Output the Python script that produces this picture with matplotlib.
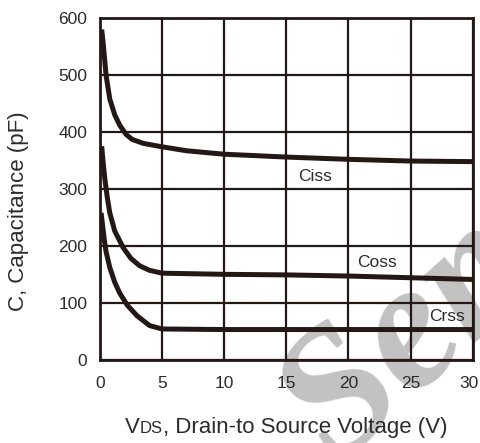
import numpy as np
import matplotlib
matplotlib.use("Agg")
import matplotlib.pyplot as plt
import matplotlib.transforms as mtransforms

# capacitance vs drain-source voltage, values read per curve
ciss_v = [0.15, 0.25, 0.5, 0.8, 1.2, 1.6, 2.1, 2.6, 3.5, 5, 7, 10, 15, 20, 25, 30]
ciss_c = [580, 560, 500, 458, 430, 412, 396, 387, 380, 374, 367, 361, 356, 352, 349, 348]

coss_v = [0.15, 0.25, 0.4, 0.6, 0.8, 1.2, 1.9, 2.5, 3.2, 4.0, 5, 10, 15, 20, 25, 30]
coss_c = [375, 350, 318, 285, 258, 226, 196, 178, 165, 157, 152, 150, 149, 147, 144, 141]

crss_v = [0.1, 0.2, 0.35, 0.5, 0.8, 1.2, 1.6, 2.2, 3.0, 4.0, 5, 10, 20, 30]
crss_c = [258, 240, 212, 190, 162, 136, 117, 96, 77, 60, 54, 53, 53, 53]

labels = ["Ciss", "Coss", "Crss"]
label_pos = [(17.3, 321), (22.3, 170), (27.9, 76)]

xticks = [0, 5, 10, 15, 20, 25, 30]
yticks = [0, 100, 200, 300, 400, 500, 600]

ink = "#231815"
txt = "#2b2b2b"
plt.rcParams["font.family"] = ["Liberation Sans", "DejaVu Sans"]

fig = plt.figure(figsize=(4.8, 4.43), dpi=100)
ax = fig.add_axes([0.208, 0.188, 0.777, 0.771])
ax.patch.set_alpha(0)

ax.set_xlim(0, 30)
ax.set_ylim(0, 600)
ax.set_xticks(xticks)
ax.set_yticks(yticks)
ax.tick_params(length=0, labelsize=12.5, labelcolor=txt)
ax.tick_params(axis="x", pad=12)
ax.tick_params(axis="y", pad=9)
ax.grid(True, color=ink, linewidth=1.6)
ax.set_axisbelow(True)
for s in ax.spines.values():
    s.set_color(ink)
    s.set_linewidth(2)

# pull the last x tick label in a little from the edge
last = ax.get_xticklabels()[-1]
last.set_transform(last.get_transform() +
                   mtransforms.ScaledTranslation(-4 / 100, 0, fig.dpi_scale_trans))

for v, c in [(ciss_v, ciss_c), (coss_v, coss_c), (crss_v, crss_c)]:
    ax.plot(v, c, color=ink, linewidth=3.6, solid_capstyle="butt", zorder=4)

for lab, (lx, ly) in zip(labels, label_pos):
    ax.text(lx, ly, lab, fontsize=12.5, color=txt, ha="center", va="center",
            zorder=5)

# watermark behind the grid
ax.text(0.89, 0.27, "Sem", transform=fig.transFigure, fontsize=132,
        family="Liberation Serif", style="italic", weight="bold",
        color="#c2c2c2", rotation=42, ha="center", va="center",
        zorder=0.1, clip_on=False)

ax.set_ylabel("C, Capacitance (pF)", fontsize=16, color=txt)
ax.yaxis.set_label_coords(-0.19, 0.436)

# x label with small-caps style "DS"
fig.canvas.draw()
r = fig.canvas.get_renderer()
y0 = 1 - 433 / 443
parts = [("V", 16), ("DS", 12), (", Drain-to Source Voltage (V)", 16)]
x0 = 125 / 480
for s, fs in parts:
    t = fig.text(x0, y0, s, fontsize=fs, color=txt, ha="left",
                 va="baseline", zorder=6)
    bb = t.get_window_extent(renderer=r)
    x0 += bb.width / fig.bbox.width

fig.savefig("out.png", dpi=100)
